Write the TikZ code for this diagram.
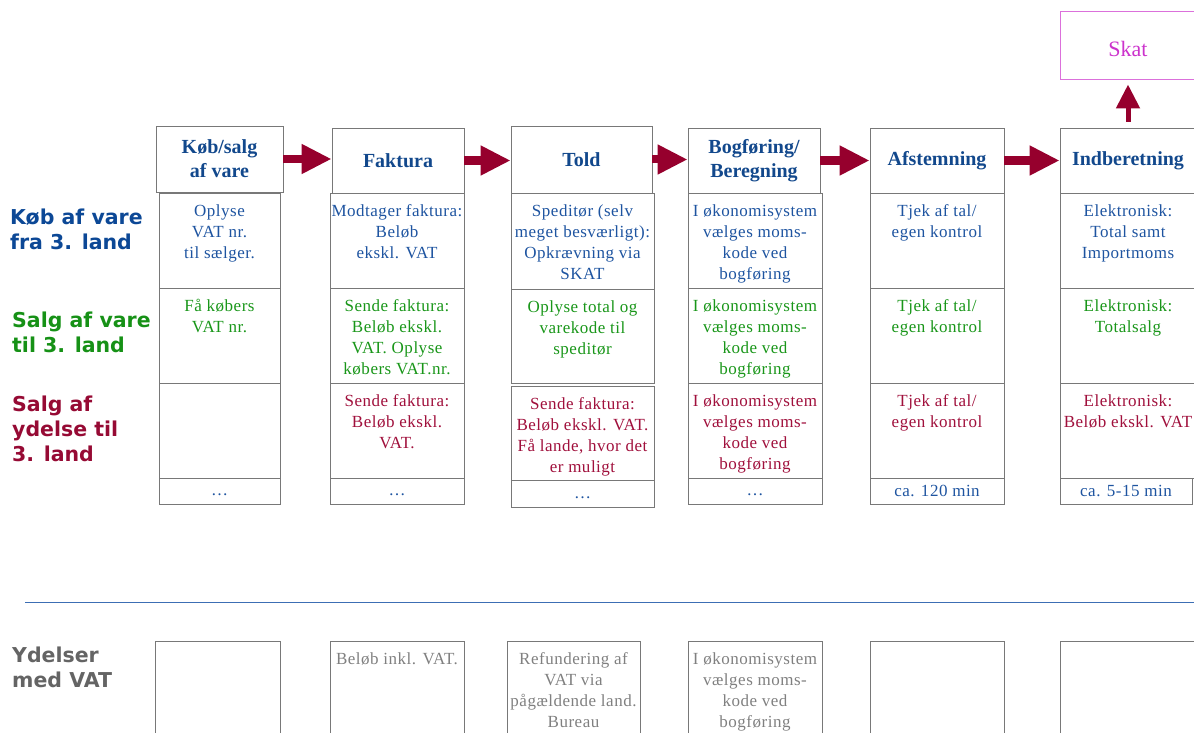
\documentclass[tikz,border=0pt]{standalone}
\usepackage{fontspec}
\setmainfont{Liberation Serif}
\newfontfamily\cellfont[LetterSpace=3]{Liberation Serif}
\newfontfamily\labelfont{DejaVu Sans}
\usetikzlibrary{arrows.meta}

\definecolor{hdrblue}{RGB}{18,72,140}
\definecolor{txtblue}{RGB}{30,84,160}
\definecolor{txtgreen}{RGB}{25,150,25}
\definecolor{txtred}{RGB}{160,16,60}
\definecolor{txtgrey}{RGB}{128,128,128}
\definecolor{lblblue}{RGB}{12,72,150}
\definecolor{lblgreen}{RGB}{22,145,22}
\definecolor{lblred}{RGB}{150,10,52}
\definecolor{lblgrey}{RGB}{100,100,100}
\definecolor{arrowred}{RGB}{150,0,45}
\definecolor{skatpink}{RGB}{204,51,204}
\definecolor{rulecol}{RGB}{60,110,180}
\definecolor{boxline}{RGB}{120,120,120}

\begin{document}
\begin{tikzpicture}[x=1pt,y=-1pt,
  box/.style={draw=boxline,line width=0.8pt,inner sep=0pt},
  hdr/.style={font=\bfseries\fontsize{20}{24}\selectfont,text=hdrblue,align=center},
  celltxt/.style={font=\cellfont\fontsize{17}{21}\selectfont,align=center,inner sep=0pt},
  rowlbl/.style={font=\labelfont\bfseries\fontsize{20.5}{25}\selectfont,align=left,anchor=north west,inner sep=0pt},
  flow/.style={draw=arrowred,line width=8pt,-{Triangle[length=30pt,width=28pt]}}]
  \clip (0,0) rectangle (1194,733);
  \newcommand\mkbox[5]{\node[box,minimum width={#4-#2},minimum height={#5-#3}] (#1) at ({(#2+#4)/2},{(#3+#5)/2}) {};}
  \newcommand\mktext[3]{\node[celltxt,text=#2,anchor=north] (#1t) at ([yshift=-9pt]#1.north) {\strut#3};}

% row labels
  \node[rowlbl,text=lblblue] (lkob) at (10,209) {Køb af vare\\fra 3. land};
  \node[rowlbl,text=lblgreen] (lsalg) at (12,312) {Salg af vare\\til 3. land};
  \node[rowlbl,text=lblred] (lydelse) at (12,396) {Salg af\\ydelse til\\3. land};
  \node[rowlbl,text=lblgrey] (lvat) at (12,647) {Ydelser\\med VAT};

% header boxes
  \mkbox{h1}{156}{126}{283}{192}
  \node[hdr] (h1t) at (h1) {Køb/salg\\af vare};
  \mkbox{h2}{332}{128}{464}{193}
  \node[hdr] (h2t) at (h2) {Faktura};
  \mkbox{h3}{511}{126}{652}{193}
  \node[hdr] (h3t) at (h3) {Told};
  \mkbox{h4}{688}{128}{820}{193}
  \node[hdr] (h4t) at (h4) {Bogføring/\\Beregning};
  \mkbox{h5}{870}{128}{1004}{193}
  \node[hdr] (h5t) at (h5) {Afstemning};
  \mkbox{h6}{1060}{128}{1196}{193}
  \node[hdr] (h6t) at (h6) {Indberetning};

% flow arrows
  \foreach \a/\b in {h1/h2,h2/h3,h3/h4,h4/h5,h5/h6}{
    \draw[flow] (\a.east) -- (\a.east -| \b.west);
  }
  \node[draw=skatpink!70,line width=1pt,minimum width=136,minimum height=68] (skat) at (1128,46) {};
  \node[text=skatpink,font=\fontsize{22}{26}\selectfont] (skatt) at ([yshift=-3pt]skat) {Skat};
  \draw[draw=arrowred,line width=5pt,-{Triangle[length=24pt,width=23pt]}] ([yshift=6pt]h6.north) -- ([yshift=-4pt]skat.south);

% body cells
  \foreach \n/\xa/\xb in {1/159/280,2/330/464,4/688/822,5/870/1004,6/1060/1196}{
    \mkbox{c\n-a}{\xa}{193}{\xb}{288}
    \mkbox{c\n-b}{\xa}{288}{\xb}{383}
    \mkbox{c\n-c}{\xa}{383}{\xb}{478}
  }
  \foreach \n/\xa/\xb in {1/159/280,2/330/464,4/688/822,5/870/1004,6/1060/1192}{
    \mkbox{c\n-d}{\xa}{478}{\xb}{504}
  }
  \mkbox{c3-a}{511}{193}{654}{289}
  \mkbox{c3-b}{511}{289}{654}{383}
  \mkbox{c3-c}{511}{386}{654}{480}
  \mkbox{c3-d}{511}{480}{654}{507}

  \mktext{c1-a}{txtblue}{Oplyse\\VAT nr.\\til sælger.}
  \mktext{c1-b}{txtgreen}{Få købers\\VAT nr.}
  \mktext{c2-a}{txtblue}{Modtager faktura:\\Beløb\\ekskl. VAT}
  \mktext{c2-b}{txtgreen}{Sende faktura:\\Beløb ekskl.\\VAT. Oplyse\\købers VAT.nr.}
  \mktext{c2-c}{txtred}{Sende faktura:\\Beløb ekskl.\\VAT.}
  \mktext{c3-a}{txtblue}{Speditør (selv\\meget besværligt):\\Opkrævning via\\SKAT}
  \mktext{c3-b}{txtgreen}{Oplyse total og\\varekode til\\speditør}
  \mktext{c3-c}{txtred}{Sende faktura:\\Beløb ekskl. VAT.\\Få lande, hvor det\\er muligt}
  \foreach \r/\col in {a/txtblue,b/txtgreen,c/txtred}{
    \mktext{c4-\r}{\col}{I økonomisystem\\vælges moms-\\kode ved\\bogføring}
    \mktext{c5-\r}{\col}{Tjek af tal/\\egen kontrol}
  }
  \mktext{c6-a}{txtblue}{Elektronisk:\\Total samt\\Importmoms}
  \mktext{c6-b}{txtgreen}{Elektronisk:\\Totalsalg}
  \mktext{c6-c}{txtred}{Elektronisk:\\Beløb ekskl. VAT}

% bottom line of each column
  \foreach \n in {1,2,3,4}{
    \node[celltxt,text=txtblue,yshift=-4pt] (c\n-dt) at (c\n-d) {\dots};
  }
  \node[celltxt,text=txtblue] (c5-dt) at (c5-d) {ca. 120 min};
  \node[celltxt,text=txtblue] (c6-dt) at (c6-d) {ca. 5-15 min};

% separator
  \draw[rulecol,line width=1pt] (25,602) -- (1194,602);

% ydelser med VAT
  \foreach \n/\xa/\xb in {1/155/280,2/330/464,3/507/640,4/688/822,5/870/1004,6/1060/1196}{
    \mkbox{y\n}{\xa}{641}{\xb}{745}
  }
  \mktext{y2}{txtgrey}{Beløb inkl. VAT.}
  \mktext{y3}{txtgrey}{Refundering af\\VAT via\\pågældende land.\\Bureau}
  \mktext{y4}{txtgrey}{I økonomisystem\\vælges moms-\\kode ved\\bogføring}
\end{tikzpicture}
\end{document}
